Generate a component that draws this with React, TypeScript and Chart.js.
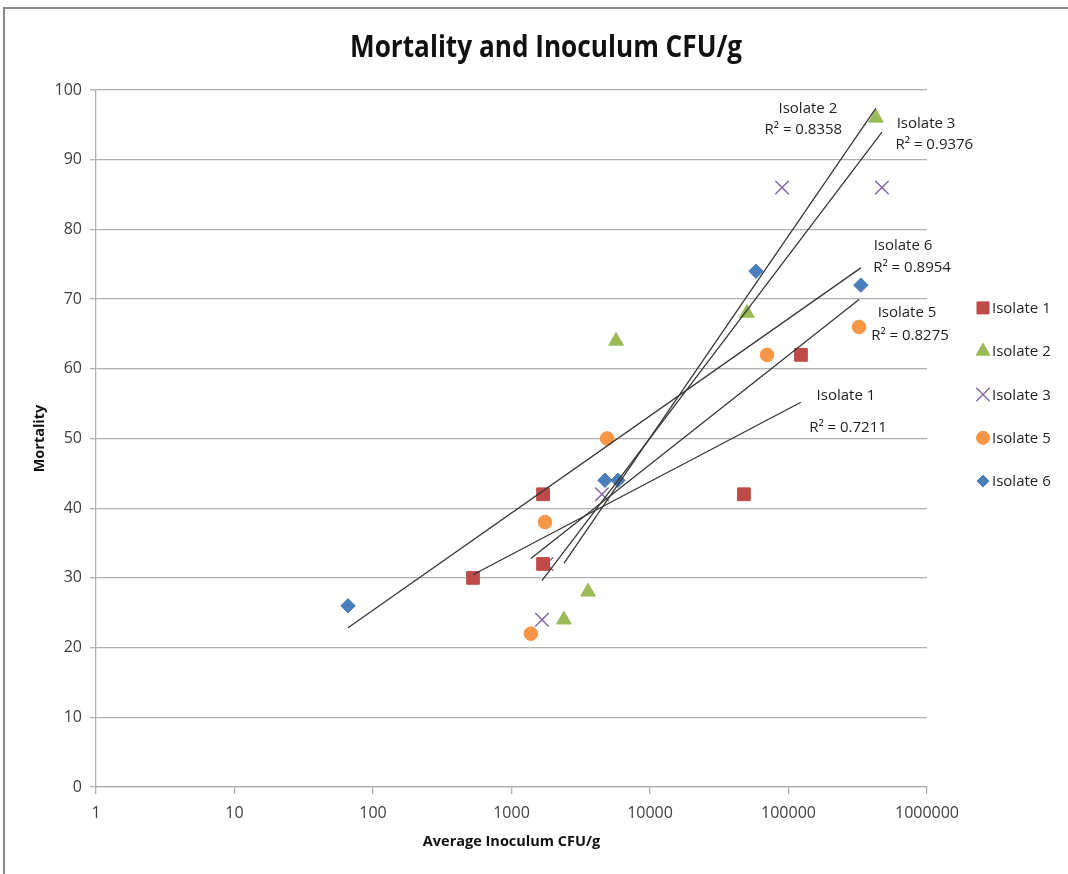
import React, { useEffect, useRef } from 'react';
import { Chart, registerables } from 'chart.js';
import { drawPoint } from 'chart.js/helpers';

Chart.register(...registerables);

// ---- Data ----
const chartTitle = 'Mortality and Inoculum CFU/g';
const seriesNames = ['Isolate 1', 'Isolate 2', 'Isolate 3', 'Isolate 5', 'Isolate 6'];

const isolate1Cfu = [527, 1690, 1690, 47700, 123000];
const isolate1Mortality = [30, 42, 32, 42, 62];

const isolate2Cfu = [2390, 3570, 5690, 50100, 428000];
const isolate2Mortality = [24, 28, 64, 68, 96];

const isolate3Cfu = [1660, 1790, 4500, 89800, 473000];
const isolate3Mortality = [24, 32, 42, 86, 86];

const isolate5Cfu = [1380, 1745, 4900, 70000, 323000];
const isolate5Mortality = [22, 38, 50, 62, 66];

const isolate6Cfu = [66, 4730, 5870, 58200, 333000];
const isolate6Mortality = [26, 44, 44, 74, 72];

const rSquaredTexts = ['R² = 0.7211', 'R² = 0.8358', 'R² = 0.9376', 'R² = 0.8275', 'R² = 0.8954'];

const xTickValues = [1, 10, 100, 1000, 10000, 100000, 1000000];
const yTickValues = [0, 10, 20, 30, 40, 50, 60, 70, 80, 90, 100];

// ---- Styles ----
const seriesColors = ['#BE4B48', '#9BBB59', '#8064A2', '#F79646', '#4A7EBB'];
const seriesPointStyles = ['rect', 'triangle', 'crossRot', 'circle', 'rectRot'];
const seriesRadius = [9, 8.5, 9.5, 6.8, 7.2];
const legendRadius = [8.5, 8, 9.5, 6.5, 6];

// Trendline label placement (data coordinates): [name line, R² line]
const labelAnchors = [
  { name: [2.6e5, 56.1], r2: [2.69e5, 51.5] },
  { name: [1.38e5, 97.3], r2: [1.28e5, 94.3] },
  { name: [9.84e5, 95.1], r2: [1.13e6, 92.1] },
  { name: [7.17e5, 68.0], r2: [7.54e5, 64.8] },
  { name: [6.71e5, 77.6], r2: [7.8e5, 74.5] },
];

const cfuSeries = [isolate1Cfu, isolate2Cfu, isolate3Cfu, isolate5Cfu, isolate6Cfu];
const mortalitySeries = [isolate1Mortality, isolate2Mortality, isolate3Mortality, isolate5Mortality, isolate6Mortality];

// Logarithmic least-squares trendline (as Excel's log trendline), from min to max x
function trendline(xs: number[], ys: number[]) {
  const lx = xs.map((v) => Math.log10(v));
  const n = lx.length;
  const mx = lx.reduce((a, b) => a + b, 0) / n;
  const my = ys.reduce((a, b) => a + b, 0) / n;
  let sxy = 0;
  let sxx = 0;
  for (let i = 0; i < n; i++) {
    sxy += (lx[i] - mx) * (ys[i] - my);
    sxx += (lx[i] - mx) * (lx[i] - mx);
  }
  const slope = sxy / sxx;
  const f = (x: number) => my + slope * (Math.log10(x) - mx);
  const minX = Math.min(...xs);
  const maxX = Math.max(...xs);
  return [
    { x: minX, y: f(minX) },
    { x: maxX, y: f(maxX) },
  ];
}

const FONT = '"Open Sans", "DejaVu Sans", sans-serif';

const decorPlugin = {
  id: 'decor',
  beforeDraw(chart: any) {
    const { ctx, width, height } = chart;
    ctx.save();
    ctx.fillStyle = '#ffffff';
    ctx.fillRect(0, 0, width, height);
    ctx.strokeStyle = '#8a8a8a';
    ctx.lineWidth = 2;
    ctx.strokeRect(4, 8, width + 10, height + 10);
    ctx.restore();
  },
  afterDraw(chart: any) {
    const { ctx, width } = chart;
    const xs = chart.scales.x;
    const ys = chart.scales.y;
    ctx.save();
    // title (Calibri-like narrow bold look)
    ctx.font = `bold 31px ${FONT}`;
    ctx.fillStyle = '#111111';
    ctx.textAlign = 'center';
    ctx.textBaseline = 'alphabetic';
    const tw = ctx.measureText(chartTitle).width;
    const sx = Math.min(1, 392 / tw);
    ctx.save();
    ctx.translate(width / 2 + 12, 57);
    ctx.scale(sx, 1);
    ctx.fillText(chartTitle, 0, 0);
    ctx.restore();

    // trendline labels
    ctx.font = `15px ${FONT}`;
    ctx.fillStyle = '#1f1f1f';
    ctx.textAlign = 'center';
    ctx.textBaseline = 'middle';
    labelAnchors.forEach((a, i) => {
      ctx.fillText(seriesNames[i], xs.getPixelForValue(a.name[0]), ys.getPixelForValue(a.name[1]));
      ctx.fillText(rSquaredTexts[i], xs.getPixelForValue(a.r2[0]), ys.getPixelForValue(a.r2[1]));
    });
    // legend
    const lx = chart.chartArea.right + 56;
    const ly0 = (chart.chartArea.top + chart.chartArea.bottom) / 2 - 2 * 43.3 - 44;
    ctx.textAlign = 'left';
    seriesNames.forEach((name, i) => {
      const y = ly0 + i * 43.3;
      ctx.fillStyle = seriesColors[i];
      ctx.strokeStyle = seriesColors[i];
      ctx.lineWidth = seriesPointStyles[i] === 'crossRot' ? 1.3 : 1;
      drawPoint(ctx, { pointStyle: seriesPointStyles[i], radius: legendRadius[i], rotation: 0, borderWidth: ctx.lineWidth } as any, lx, y);
      ctx.fillStyle = '#1f1f1f';
      ctx.fillText(name, lx + 9, y + 1);
    });
    ctx.restore();
  },
};

export default function App() {
  const ref = useRef<HTMLCanvasElement | null>(null);

  useEffect(() => {
    if (!ref.current) return;
    const scatterSets = seriesNames.map((name, i) => ({
      type: 'scatter' as const,
      label: name,
      data: cfuSeries[i].map((x, j) => ({ x, y: mortalitySeries[i][j] })),
      backgroundColor: seriesColors[i],
      borderColor: seriesColors[i],
      borderWidth: seriesPointStyles[i] === 'crossRot' ? 1.4 : 1,
      pointStyle: seriesPointStyles[i],
      pointRadius: seriesRadius[i],
      order: 2,
    }));
    const trendSets = seriesNames.map((name, i) => ({
      type: 'line' as const,
      label: `${name} trend`,
      data: trendline(cfuSeries[i], mortalitySeries[i]),
      borderColor: '#333333',
      borderWidth: 1.25,
      pointRadius: 0,
      fill: false,
      showLine: true,
      order: 1,
    }));

    const gridColor = '#b0b0b0';
    const chart = new Chart(ref.current, {
      type: 'scatter',
      data: { datasets: [...trendSets, ...scatterSets] as any },
      plugins: [decorPlugin],
      options: {
        responsive: false,
        animation: false,
        layout: { padding: { left: 28, right: 141, top: 90, bottom: 14 } },
        plugins: {
          legend: { display: false },
          tooltip: { enabled: false },
          title: { display: false },
        },
        scales: {
          x: {
            type: 'logarithmic',
            min: 1,
            max: 1000000,
            afterBuildTicks: (s: any) => {
              s.ticks = xTickValues.map((v) => ({ value: v }));
            },
            afterFit: (s: any) => {
              s.height = 73;
            },
            ticks: {
              autoSkip: false,
              maxRotation: 0,
              padding: 10,
              color: '#404040',
              font: { family: FONT, size: 16 },
              callback: (v: any) => String(v),
            },
            grid: { drawOnChartArea: false, drawTicks: true, tickLength: 7, color: gridColor, lineWidth: 1.3 },
            border: { color: gridColor, width: 1.3 },
            title: {
              display: true,
              text: 'Average Inoculum CFU/g',
              color: '#111111',
              font: { family: FONT, size: 14.5, weight: 'bold' },
              padding: { top: 4, bottom: 9 },
            },
          },
          y: {
            min: 0,
            max: 100,
            afterBuildTicks: (s: any) => {
              s.ticks = yTickValues.map((v) => ({ value: v }));
            },
            afterFit: (s: any) => {
              s.width = 68;
            },
            ticks: {
              padding: 8,
              color: '#404040',
              font: { family: FONT, size: 16 },
            },
            grid: { color: gridColor, lineWidth: 1.3, tickLength: 6 },
            border: { color: gridColor, width: 1.3 },
            title: {
              display: true,
              text: 'Mortality',
              color: '#111111',
              font: { family: FONT, size: 14.5, weight: 'bold' },
              padding: { top: 3, bottom: 4 },
            },
          },
        },
      } as any,
    });
    return () => chart.destroy();
  }, []);

  return (
    <div style={{ position: 'absolute', left: 0, top: 0, width: 1068, height: 874 }}>
      <canvas ref={ref} width={1068} height={874} />
    </div>
  );
}
